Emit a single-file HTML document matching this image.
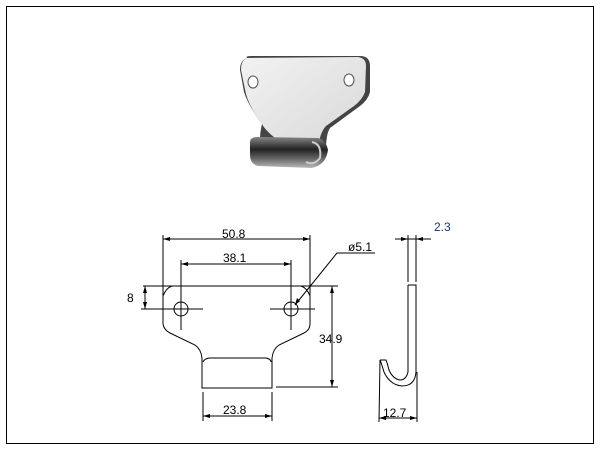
<!DOCTYPE html><html><head><style>body{margin:0;background:#fff}svg{display:block}text{font-family:"Liberation Sans",sans-serif;font-size:12px;fill:#000}</style></head><body>
<svg width="600" height="450" viewBox="0 0 600 450">
<defs>
<linearGradient id="pl" x1="0" y1="0" x2="1" y2="1"><stop offset="0" stop-color="#f2f2f2"/><stop offset="1" stop-color="#d8d8d8"/></linearGradient>
<linearGradient id="hk" x1="0" y1="0" x2="0" y2="1"><stop offset="0" stop-color="#888"/><stop offset=".4" stop-color="#222"/><stop offset=".7" stop-color="#666"/><stop offset="1" stop-color="#bbb"/></linearGradient>
</defs>
<rect x="6.5" y="6.5" width="587" height="437" fill="none" stroke="#000"/>
<!-- photo -->
<path d="M247 58 Q245 56 252 56 L360 56 Q370 56 370 66 L370 92 Q368 100 360 106 L330 128 Q326 134 326 150 L318 160 L262 150 Q258 140 262 124 Q248 105 244 92 L240 70 Q240 60 247 58Z" fill="#444"/>
<path d="M247 58 L358 57 Q366 58 366 66 L365 92 Q362 100 354 106 L326 126 Q320 132 318 148 L275 138 Q265 130 262 124 Q250 108 246 94 L241 70 Q241 60 247 58Z" fill="url(#pl)"/>
<ellipse cx="253" cy="82" rx="5" ry="6" fill="#fff" stroke="#555"/>
<ellipse cx="349" cy="80" rx="5" ry="6" fill="#fff" stroke="#555"/>
<path d="M250 142 Q250 136 262 137 L318 138 Q326 140 328 150 Q326 165 312 168 L258 166 Q250 164 250 155Z" fill="url(#hk)"/>
<path d="M312 142 Q322 144 320 158 Q314 166 306 162" fill="none" stroke="#ccc" stroke-width="2"/>
<g stroke="#000" fill="none" stroke-width="1">
<!-- plate outline -->
<path d="M163 235 V324 Q164 330 170 333 L195 345 Q201 349 202 358 V388 H272 V358 Q273 349 279 345 L304 333 Q310 330 310 324 V235"/>
<path d="M203 362 Q204 359 209 358 L266 358 Q271 359 271 362"/>
<path d="M163 296 Q166 288 172 286 M310 296 Q307 288 301 286"/>
<line x1="143" y1="286" x2="338" y2="286"/>
<line x1="181" y1="260" x2="181" y2="330"/><line x1="291" y1="260" x2="291" y2="330"/>
<line x1="141" y1="309" x2="203" y2="309"/><line x1="270" y1="309" x2="315" y2="309"/>
<circle cx="181" cy="309" r="7"/><circle cx="291" cy="309" r="7"/>
<line x1="163" y1="239" x2="310" y2="239"/>
<line x1="181" y1="264" x2="291" y2="264"/>
<line x1="145" y1="286" x2="145" y2="309"/>
<line x1="332" y1="286" x2="332" y2="387"/>
<line x1="276" y1="387" x2="338" y2="387"/>
<line x1="203" y1="392" x2="203" y2="421"/><line x1="272" y1="392" x2="272" y2="421"/>
<line x1="203" y1="416" x2="272" y2="416"/>
<polyline points="295,305 337,253 375,253"/>
<!-- side view -->
<line x1="408" y1="235" x2="408" y2="282"/><line x1="416" y1="235" x2="416" y2="282"/>
<line x1="395" y1="239" x2="431" y2="239"/>
<path d="M408 285 H416 V372 Q415 386 402 386 Q390 385 384 372 Q381 362 380 360 L379 422"/>
<path d="M408 285 V372 Q406 380 400 380 Q393 379 389 370 Q387 362 386 360 L380 360"/>
<line x1="417" y1="372" x2="417" y2="422"/>
<line x1="379" y1="418" x2="417" y2="418"/>
</g>
<g fill="#000">
<path d="M163 239 l7 -2 v4z M310 239 l-7 -2 v4z M181 264 l7 -2 v4z M291 264 l-7 -2 v4z"/>
<path d="M145 286 l-2 7 h4z M145 309 l-2 -7 h4z M332 286 l-2 7 h4z M332 387 l-2 -7 h4z"/>
<path d="M203 416 l7 -2 v4z M272 416 l-7 -2 v4z M295 305 l2 -7 l3 3z"/>
<path d="M408 239 l-7 -2 v4z M416 239 l7 -2 v4z M379 418 l7 -2 v4z M417 418 l-7 -2 v4z"/>
</g>
<text x="222" y="238">50.8</text>
<text x="223" y="262">38.1</text>
<text x="127" y="302">8</text>
<text x="348" y="251">ø5.1</text>
<text x="319" y="343">34.9</text>
<text x="223" y="414">23.8</text>
<text x="434" y="231" style="fill:#1a3a6a">2.3</text>
<text x="383" y="417">12.7</text>
</svg></body></html>
